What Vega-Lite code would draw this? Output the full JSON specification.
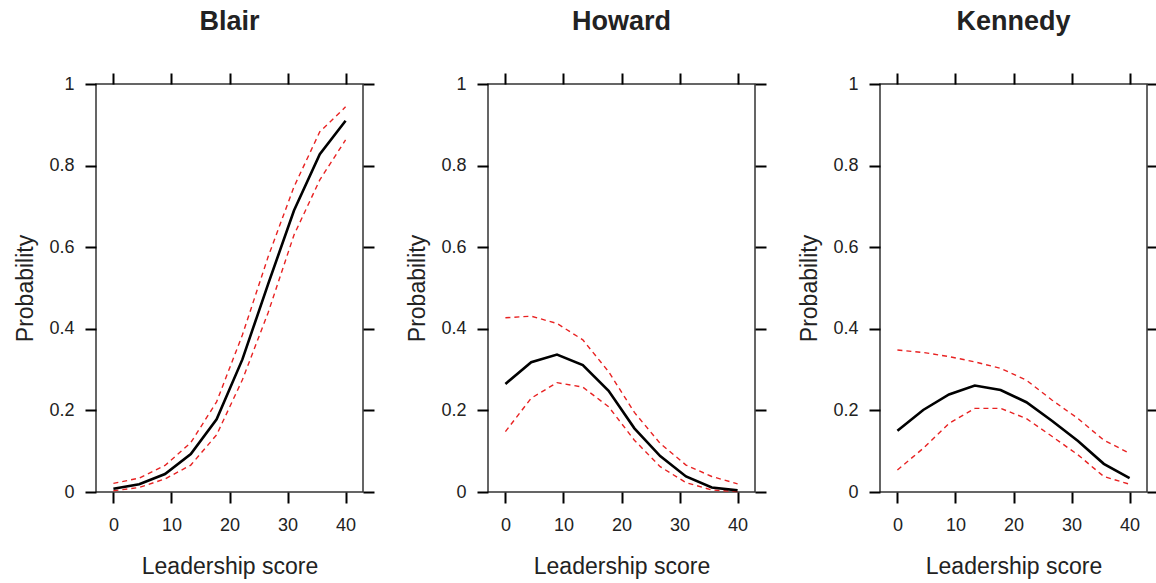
{
  "$schema": "https://vega.github.io/schema/vega-lite/v6.json",
  "background": "white",
  "padding": {"left": 14, "top": 7, "right": 0, "bottom": 0},
  "config": {
    "font": "Liberation Sans",
    "view": {"stroke": "#333333", "strokeWidth": 1.5},
    "axis": {
      "tickSize": 11, "tickWidth": 2, "tickColor": "black", "domain": false, "grid": false,
      "labelFont": "Liberation Sans", "labelFontSize": 18, "labelColor": "#222222", "labelPadding": 11,
      "titleFont": "Liberation Sans", "titleFontSize": 23, "titleFontWeight": "normal", "titleColor": "#222222",
      "labelFlush": false, "labelOverlap": false
    },
    "title": {"font": "Liberation Sans", "fontSize": 27, "fontWeight": "bold", "color": "#222222", "offset": 36},
    "concat": {"spacing": 30}
  },
  "datasets": {
    "d": [
      {"panel": "Blair", "series": "mean", "score": 0, "prob": 0.008},
      {"panel": "Blair", "series": "mean", "score": 4.444, "prob": 0.019},
      {"panel": "Blair", "series": "mean", "score": 8.889, "prob": 0.044},
      {"panel": "Blair", "series": "mean", "score": 13.333, "prob": 0.093},
      {"panel": "Blair", "series": "mean", "score": 17.778, "prob": 0.178},
      {"panel": "Blair", "series": "mean", "score": 22.222, "prob": 0.325},
      {"panel": "Blair", "series": "mean", "score": 26.667, "prob": 0.51},
      {"panel": "Blair", "series": "mean", "score": 31.111, "prob": 0.69},
      {"panel": "Blair", "series": "mean", "score": 35.556, "prob": 0.828},
      {"panel": "Blair", "series": "mean", "score": 40, "prob": 0.91},
      {"panel": "Blair", "series": "upper", "score": 0, "prob": 0.021},
      {"panel": "Blair", "series": "upper", "score": 4.444, "prob": 0.034},
      {"panel": "Blair", "series": "upper", "score": 8.889, "prob": 0.065},
      {"panel": "Blair", "series": "upper", "score": 13.333, "prob": 0.121},
      {"panel": "Blair", "series": "upper", "score": 17.778, "prob": 0.221},
      {"panel": "Blair", "series": "upper", "score": 22.222, "prob": 0.385},
      {"panel": "Blair", "series": "upper", "score": 26.667, "prob": 0.577},
      {"panel": "Blair", "series": "upper", "score": 31.111, "prob": 0.748},
      {"panel": "Blair", "series": "upper", "score": 35.556, "prob": 0.883},
      {"panel": "Blair", "series": "upper", "score": 40, "prob": 0.944},
      {"panel": "Blair", "series": "lower", "score": 0, "prob": 0.003},
      {"panel": "Blair", "series": "lower", "score": 4.444, "prob": 0.011},
      {"panel": "Blair", "series": "lower", "score": 8.889, "prob": 0.032},
      {"panel": "Blair", "series": "lower", "score": 13.333, "prob": 0.066},
      {"panel": "Blair", "series": "lower", "score": 17.778, "prob": 0.14},
      {"panel": "Blair", "series": "lower", "score": 22.222, "prob": 0.275},
      {"panel": "Blair", "series": "lower", "score": 26.667, "prob": 0.44},
      {"panel": "Blair", "series": "lower", "score": 31.111, "prob": 0.63},
      {"panel": "Blair", "series": "lower", "score": 35.556, "prob": 0.765},
      {"panel": "Blair", "series": "lower", "score": 40, "prob": 0.863},
      {"panel": "Howard", "series": "mean", "score": 0, "prob": 0.265},
      {"panel": "Howard", "series": "mean", "score": 4.444, "prob": 0.318},
      {"panel": "Howard", "series": "mean", "score": 8.889, "prob": 0.337},
      {"panel": "Howard", "series": "mean", "score": 13.333, "prob": 0.311},
      {"panel": "Howard", "series": "mean", "score": 17.778, "prob": 0.248},
      {"panel": "Howard", "series": "mean", "score": 22.222, "prob": 0.156},
      {"panel": "Howard", "series": "mean", "score": 26.667, "prob": 0.088},
      {"panel": "Howard", "series": "mean", "score": 31.111, "prob": 0.038},
      {"panel": "Howard", "series": "mean", "score": 35.556, "prob": 0.011},
      {"panel": "Howard", "series": "mean", "score": 40, "prob": 0.004},
      {"panel": "Howard", "series": "upper", "score": 0, "prob": 0.427},
      {"panel": "Howard", "series": "upper", "score": 4.444, "prob": 0.431},
      {"panel": "Howard", "series": "upper", "score": 8.889, "prob": 0.413},
      {"panel": "Howard", "series": "upper", "score": 13.333, "prob": 0.373},
      {"panel": "Howard", "series": "upper", "score": 17.778, "prob": 0.295},
      {"panel": "Howard", "series": "upper", "score": 22.222, "prob": 0.195},
      {"panel": "Howard", "series": "upper", "score": 26.667, "prob": 0.119},
      {"panel": "Howard", "series": "upper", "score": 31.111, "prob": 0.066},
      {"panel": "Howard", "series": "upper", "score": 35.556, "prob": 0.038},
      {"panel": "Howard", "series": "upper", "score": 40, "prob": 0.02},
      {"panel": "Howard", "series": "lower", "score": 0, "prob": 0.148},
      {"panel": "Howard", "series": "lower", "score": 4.444, "prob": 0.23},
      {"panel": "Howard", "series": "lower", "score": 8.889, "prob": 0.268},
      {"panel": "Howard", "series": "lower", "score": 13.333, "prob": 0.257},
      {"panel": "Howard", "series": "lower", "score": 17.778, "prob": 0.209},
      {"panel": "Howard", "series": "lower", "score": 22.222, "prob": 0.127},
      {"panel": "Howard", "series": "lower", "score": 26.667, "prob": 0.062},
      {"panel": "Howard", "series": "lower", "score": 31.111, "prob": 0.023},
      {"panel": "Howard", "series": "lower", "score": 35.556, "prob": 0.005},
      {"panel": "Howard", "series": "lower", "score": 40, "prob": 0.001},
      {"panel": "Kennedy", "series": "mean", "score": 0, "prob": 0.15},
      {"panel": "Kennedy", "series": "mean", "score": 4.444, "prob": 0.201},
      {"panel": "Kennedy", "series": "mean", "score": 8.889, "prob": 0.239},
      {"panel": "Kennedy", "series": "mean", "score": 13.333, "prob": 0.261},
      {"panel": "Kennedy", "series": "mean", "score": 17.778, "prob": 0.25},
      {"panel": "Kennedy", "series": "mean", "score": 22.222, "prob": 0.22},
      {"panel": "Kennedy", "series": "mean", "score": 26.667, "prob": 0.174},
      {"panel": "Kennedy", "series": "mean", "score": 31.111, "prob": 0.125},
      {"panel": "Kennedy", "series": "mean", "score": 35.556, "prob": 0.069},
      {"panel": "Kennedy", "series": "mean", "score": 40, "prob": 0.034},
      {"panel": "Kennedy", "series": "upper", "score": 0, "prob": 0.348},
      {"panel": "Kennedy", "series": "upper", "score": 4.444, "prob": 0.342},
      {"panel": "Kennedy", "series": "upper", "score": 8.889, "prob": 0.332},
      {"panel": "Kennedy", "series": "upper", "score": 13.333, "prob": 0.319},
      {"panel": "Kennedy", "series": "upper", "score": 17.778, "prob": 0.303},
      {"panel": "Kennedy", "series": "upper", "score": 22.222, "prob": 0.274},
      {"panel": "Kennedy", "series": "upper", "score": 26.667, "prob": 0.225},
      {"panel": "Kennedy", "series": "upper", "score": 31.111, "prob": 0.18},
      {"panel": "Kennedy", "series": "upper", "score": 35.556, "prob": 0.127},
      {"panel": "Kennedy", "series": "upper", "score": 40, "prob": 0.095},
      {"panel": "Kennedy", "series": "lower", "score": 0, "prob": 0.054},
      {"panel": "Kennedy", "series": "lower", "score": 4.444, "prob": 0.107},
      {"panel": "Kennedy", "series": "lower", "score": 8.889, "prob": 0.168},
      {"panel": "Kennedy", "series": "lower", "score": 13.333, "prob": 0.205},
      {"panel": "Kennedy", "series": "lower", "score": 17.778, "prob": 0.205},
      {"panel": "Kennedy", "series": "lower", "score": 22.222, "prob": 0.18},
      {"panel": "Kennedy", "series": "lower", "score": 26.667, "prob": 0.136},
      {"panel": "Kennedy", "series": "lower", "score": 31.111, "prob": 0.091},
      {"panel": "Kennedy", "series": "lower", "score": 35.556, "prob": 0.038},
      {"panel": "Kennedy", "series": "lower", "score": 40, "prob": 0.019}
    ]
  },
  "hconcat": [
    {
      "title": "Blair",
      "width": 267, "height": 408,
      "data": {"name": "d"},
      "transform": [{"filter": "datum.panel === 'Blair'"}],
      "layer": [
        {
          "transform": [{"filter": "datum.series !== 'mean'"}],
          "mark": {"type": "line", "color": "#e82222", "strokeWidth": 1.4, "strokeDash": [5, 4]},
          "encoding": {
            "x": {"field": "score", "type": "quantitative", "scale": {"domain": [-3, 43], "nice": false, "zero": false}, "axis": {"orient": "top", "values": [0, 10, 20, 30, 40], "labels": false, "title": null}},
            "y": {"field": "prob", "type": "quantitative", "scale": {"domain": [0, 1], "nice": false}, "axis": {"orient": "right", "values": [0, 0.2, 0.4, 0.6, 0.8, 1], "labels": false, "title": null}},
            "detail": {"field": "series"}
          }
        },
        {
          "transform": [{"filter": "datum.series === 'mean'"}],
          "mark": {"type": "line", "color": "black", "strokeWidth": 2.6},
          "encoding": {
            "x": {"field": "score", "type": "quantitative", "scale": {"domain": [-3, 43], "nice": false, "zero": false}, "axis": {"orient": "bottom", "values": [0, 10, 20, 30, 40], "title": "Leadership score", "labelPadding": 13, "titlePadding": 21}},
            "y": {"field": "prob", "type": "quantitative", "scale": {"domain": [0, 1], "nice": false}, "axis": {"orient": "left", "values": [0, 0.2, 0.4, 0.6, 0.8, 1], "format": "~g", "title": "Probability", "titlePadding": 11}}
          }
        }
      ],
      "resolve": {"axis": {"x": "independent", "y": "independent"}}
    },
    {
      "title": "Howard",
      "width": 267, "height": 408,
      "data": {"name": "d"},
      "transform": [{"filter": "datum.panel === 'Howard'"}],
      "layer": [
        {
          "transform": [{"filter": "datum.series !== 'mean'"}],
          "mark": {"type": "line", "color": "#e82222", "strokeWidth": 1.4, "strokeDash": [5, 4]},
          "encoding": {
            "x": {"field": "score", "type": "quantitative", "scale": {"domain": [-3, 43], "nice": false, "zero": false}, "axis": {"orient": "top", "values": [0, 10, 20, 30, 40], "labels": false, "title": null}},
            "y": {"field": "prob", "type": "quantitative", "scale": {"domain": [0, 1], "nice": false}, "axis": {"orient": "right", "values": [0, 0.2, 0.4, 0.6, 0.8, 1], "labels": false, "title": null}},
            "detail": {"field": "series"}
          }
        },
        {
          "transform": [{"filter": "datum.series === 'mean'"}],
          "mark": {"type": "line", "color": "black", "strokeWidth": 2.6},
          "encoding": {
            "x": {"field": "score", "type": "quantitative", "scale": {"domain": [-3, 43], "nice": false, "zero": false}, "axis": {"orient": "bottom", "values": [0, 10, 20, 30, 40], "title": "Leadership score", "labelPadding": 13, "titlePadding": 21}},
            "y": {"field": "prob", "type": "quantitative", "scale": {"domain": [0, 1], "nice": false}, "axis": {"orient": "left", "values": [0, 0.2, 0.4, 0.6, 0.8, 1], "format": "~g", "title": "Probability", "titlePadding": 11}}
          }
        }
      ],
      "resolve": {"axis": {"x": "independent", "y": "independent"}}
    },
    {
      "title": "Kennedy",
      "width": 267, "height": 408,
      "data": {"name": "d"},
      "transform": [{"filter": "datum.panel === 'Kennedy'"}],
      "layer": [
        {
          "transform": [{"filter": "datum.series !== 'mean'"}],
          "mark": {"type": "line", "color": "#e82222", "strokeWidth": 1.4, "strokeDash": [5, 4]},
          "encoding": {
            "x": {"field": "score", "type": "quantitative", "scale": {"domain": [-3, 43], "nice": false, "zero": false}, "axis": {"orient": "top", "values": [0, 10, 20, 30, 40], "labels": false, "title": null}},
            "y": {"field": "prob", "type": "quantitative", "scale": {"domain": [0, 1], "nice": false}, "axis": {"orient": "right", "values": [0, 0.2, 0.4, 0.6, 0.8, 1], "labels": false, "title": null}},
            "detail": {"field": "series"}
          }
        },
        {
          "transform": [{"filter": "datum.series === 'mean'"}],
          "mark": {"type": "line", "color": "black", "strokeWidth": 2.6},
          "encoding": {
            "x": {"field": "score", "type": "quantitative", "scale": {"domain": [-3, 43], "nice": false, "zero": false}, "axis": {"orient": "bottom", "values": [0, 10, 20, 30, 40], "title": "Leadership score", "labelPadding": 13, "titlePadding": 21}},
            "y": {"field": "prob", "type": "quantitative", "scale": {"domain": [0, 1], "nice": false}, "axis": {"orient": "left", "values": [0, 0.2, 0.4, 0.6, 0.8, 1], "format": "~g", "title": "Probability", "titlePadding": 11}}
          }
        }
      ],
      "resolve": {"axis": {"x": "independent", "y": "independent"}}
    }
  ]
}
